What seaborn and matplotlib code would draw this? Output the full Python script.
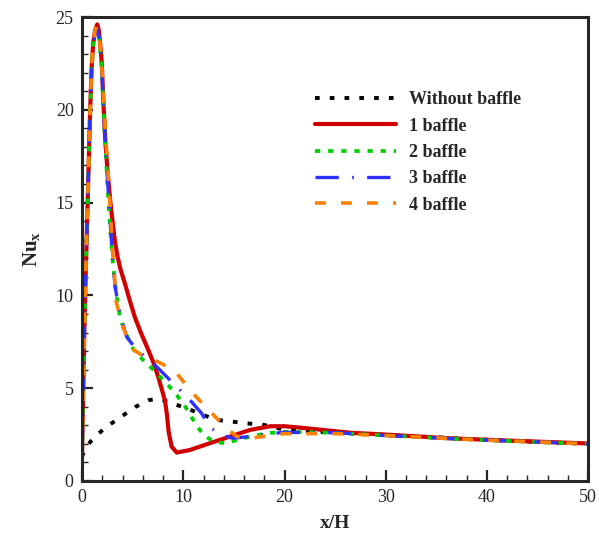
import matplotlib
matplotlib.use("Agg")
import matplotlib.pyplot as plt
import seaborn as sns
import pandas as pd
from matplotlib.ticker import MultipleLocator

# ---- data ----
x_none = [0, 0.13, 0.8, 1.85, 2.9, 4.1, 5.3, 6.6, 7.5, 8.3, 9.35, 10.6, 12.0, 13.3,
          14.8, 16.3, 17.7, 19.0, 20.0, 25.0, 30.0, 35.0, 40.0, 45.0, 50.0]
y_none = [1.3, 1.5, 2.1, 2.66, 3.1, 3.55, 4.0, 4.36, 4.42, 4.3, 4.1, 3.86, 3.55, 3.29,
          3.2, 3.1, 3.05, 2.9, 2.75, 2.6, 2.48, 2.35, 2.22, 2.1, 2.0]

x_b1 = [0, 0.05, 0.12, 0.22, 0.35, 0.5, 0.65, 0.8, 0.95, 1.1, 1.3, 1.5, 1.65, 1.8,
        1.95, 2.1, 2.3, 2.5, 2.8, 3.05, 3.25, 3.5, 3.8, 4.2, 4.7, 5.2, 5.8, 6.4, 7.0, 7.5,
        7.9, 8.2, 8.4, 8.55, 8.85, 9.35, 10.66, 12.6, 14.6, 16.6, 18.6, 20.0, 22.0, 26.5,
        30.0, 36.3, 40.0, 45.0, 50.0]
y_b1 = [1.5, 3.0, 5.0, 8.0, 11.0, 14.0, 17.0, 20.0, 22.3, 23.6, 24.3, 24.6, 24.3, 23.5,
        22.5, 20.5, 18.3, 16.8, 15.0, 13.8, 12.9, 12.1, 11.4, 10.7, 9.75, 8.85, 8.0, 7.24, 6.45, 5.65,
        4.9, 4.3, 3.5, 2.65, 1.85, 1.53, 1.67, 2.03, 2.39, 2.75, 2.95, 2.95, 2.85, 2.6,
        2.5, 2.3, 2.22, 2.12, 2.02]

x_b2 = [0, 0.05, 0.12, 0.22, 0.35, 0.5, 0.65, 0.8, 0.95, 1.1, 1.3, 1.45, 1.7, 1.9,
        2.1, 2.3, 2.5, 2.7, 2.9, 3.1, 3.4, 3.75, 4.2, 5.1, 6.05, 6.9, 7.7, 8.5, 9.35,
        10.2, 11.3, 12.0, 13.0, 14.1, 15.3, 16.6, 18.2, 20.0, 25.0, 30.0, 35.0, 40.0, 45.0, 50.0]
y_b2 = [1.5, 3.0, 5.0, 8.0, 11.0, 14.0, 17.0, 20.0, 22.3, 23.5, 24.2, 24.4, 23.8, 22.5,
        20.3, 18.0, 16.0, 14.2, 12.7, 11.4, 10.0, 8.8, 8.1, 7.06, 6.5, 6.07, 5.62, 5.17, 4.63,
        4.0, 3.0, 2.48, 2.12, 2.03, 2.2, 2.39, 2.57, 2.65, 2.6, 2.45, 2.32, 2.2, 2.1, 2.0]

x_b3 = [0, 0.05, 0.12, 0.22, 0.35, 0.5, 0.65, 0.8, 0.95, 1.1, 1.3, 1.45, 1.7, 1.9,
        2.1, 2.3, 2.5, 2.7, 2.95, 3.26, 3.75, 4.4, 5.4, 6.7, 7.7, 9.0, 10.5, 11.8,
        12.6, 13.6, 14.9, 16.6, 18.5, 20.0, 25.0, 30.0, 35.0, 40.0, 45.0, 50.0]
y_b3 = [1.5, 3.0, 5.0, 8.0, 11.0, 14.0, 17.0, 20.0, 22.3, 23.5, 24.2, 24.4, 23.9, 22.7,
        20.5, 18.3, 16.4, 14.6, 12.5, 10.47, 9.0, 7.77, 7.06, 6.5, 5.98, 5.26, 4.46, 3.65,
        2.93, 2.48, 2.3, 2.4, 2.55, 2.62, 2.6, 2.45, 2.32, 2.2, 2.1, 2.0]

x_b4 = [0, 0.05, 0.12, 0.22, 0.35, 0.5, 0.65, 0.8, 0.95, 1.1, 1.3, 1.45, 1.7, 1.9,
        2.1, 2.4, 2.7, 3.0, 3.4, 4.1, 5.1, 6.0, 7.2, 8.3, 9.35, 10.8, 12.5, 14.1,
        15.3, 16.6, 18.5, 20.0, 25.0, 30.0, 35.0, 40.0, 45.0, 50.0]
y_b4 = [1.5, 3.0, 5.0, 8.0, 11.0, 14.0, 17.0, 20.0, 22.3, 23.6, 24.3, 24.5, 24.0, 22.8,
        20.8, 18.0, 15.5, 12.5, 9.57, 8.2, 7.06, 6.75, 6.5, 6.2, 5.8, 4.81, 3.83, 2.93,
        2.39, 2.3, 2.45, 2.55, 2.55, 2.45, 2.32, 2.2, 2.1, 2.0]

labels = ["Without baffle", "1 baffle", "2 baffle", "3 baffle", "4 baffle"]
x_ticks = [0, 10, 20, 30, 40, 50]
y_ticks = [0, 5, 10, 15, 20, 25]

# ---- styling ----
sns.set_style("ticks")
plt.rcParams["font.family"] = ["Liberation Serif", "DejaVu Serif"]
plt.rcParams["mathtext.fontset"] = "custom"
plt.rcParams["mathtext.rm"] = "Liberation Serif"
plt.rcParams["mathtext.bf"] = "Liberation Serif:bold"
plt.rcParams["mathtext.it"] = "Liberation Serif:italic"

fig = plt.figure(figsize=(5.99, 5.33), dpi=100)
ax = fig.add_axes([0.137, 0.0976, 0.845, 0.8705])

series = [
    (x_none, y_none, labels[0], "black", 2.8, (1.2, 2.6)),
    (x_b1, y_b1, labels[1], "#d00000", 3.0, None),
    (x_b2, y_b2, labels[2], "#00d000", 2.7, (1.4, 2.1)),
    (x_b3, y_b3, labels[3], "#3030ff", 2.4, (7.0, 4.0, 0.5, 4.0)),
    (x_b4, y_b4, labels[4], "#ff8000", 2.6, (3.0, 4.2)),
]

for xs, ys, lab, col, lw, dash in series:
    df = pd.DataFrame({"x": xs, "y": ys})
    sns.lineplot(data=df, x="x", y="y", ax=ax, color=col, linewidth=lw,
                 label=lab, sort=False, estimator=None)
    ln = ax.get_lines()[-1]
    if dash is not None:
        ln.set_dashes(dash)
        ln.set_dash_capstyle("butt")

ax.set_xlim(0, 50)
ax.set_ylim(0, 25)
ax.set_xticks(x_ticks)
ax.set_yticks(y_ticks)
ax.xaxis.set_minor_locator(MultipleLocator(2))
ax.yaxis.set_minor_locator(MultipleLocator(1))
ax.tick_params(which="major", direction="in", length=8, width=1.6, labelsize=13, pad=6)
ax.tick_params(which="minor", direction="in", length=4, width=1.0)
ax.tick_params(top=False, right=False)
for s in ax.spines.values():
    s.set_linewidth(2.2)
    s.set_visible(True)

ax.set_xlabel("x/H", fontsize=14, fontweight="bold", labelpad=6)
ax.set_ylabel(r"$\mathbf{Nu_x}$", fontsize=15, labelpad=10)

ax.legend(loc="upper left", bbox_to_anchor=(0.46, 0.84), frameon=False,
          prop={"weight": "bold", "size": 13}, handlelength=4.5,
          handletextpad=0.72, labelspacing=0.52, borderpad=0, borderaxespad=0)

fig.savefig("out.png", dpi=100)
